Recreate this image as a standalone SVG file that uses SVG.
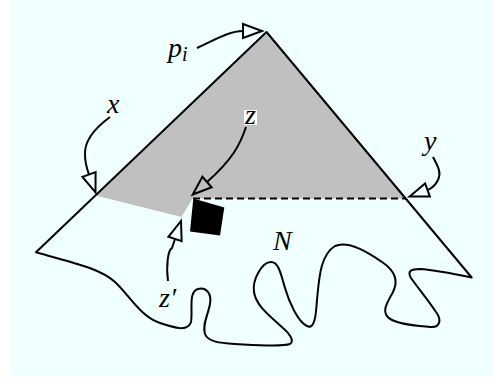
<svg xmlns="http://www.w3.org/2000/svg" width="493" height="381" viewBox="0 0 493 381">
<style>
.ln{fill:none;stroke:#000;stroke-width:2;stroke-linejoin:round;stroke-linecap:round}
.arr{fill:none;stroke:#000;stroke-width:2;marker-end:url(#ah)}
.lb{font-family:"Liberation Serif","Times New Roman",serif;font-style:italic;font-size:28px;fill:#000}
</style>
<defs>
<marker id="ah" viewBox="-2 -10 24 20" refX="0" refY="0" markerWidth="24" markerHeight="20" markerUnits="userSpaceOnUse" orient="auto">
<path d="M0,-7 L19,0 L0,7 Z" fill="none" stroke="#000" stroke-width="2" stroke-linejoin="miter"/>
</marker>
</defs>
<rect x="0" y="0" width="493" height="381" fill="#ffffff"/>
<rect x="10" y="0" width="483" height="375" fill="#f0ffff"/>
<g id="shaded">
<polygon points="266.5,32 95.5,195.5 181.5,217 192.5,198.5 406,198.5" fill="#c0c0c0"/>
</g>
<g id="region-N">
<path class="ln" d="M36,252.3 L266.5,32 L471.7,277.5 C455,274 435,270 420,269 C411,269 407,271 411,278 C418,288 428,300 436,312 C442,320 440,328 430,327 C420,326 402,325 392,320 C380,314 386,304 393,292 C399,280 394,270 382,262 C368,252 348,240 335,246 C320,255 319,280 317,300 C316,314 315,330 307,326 C298,322 289,302 285,288 C281,275 279,262 271,262 C262,262 252,280 254,292 C256,306 270,316 283,328 C289,333 295,341 290,344 C282,347 255,345 235,344 C220,343 208,342 205,334 C202,325 208,315 210,304 C212,293 206,287 198,289 C188,292 193,310 191,322 C188,332 175,328 160,323 C140,316 130,296 115,282 C100,268 70,262 36,252.3 Z"/>
</g>
<g id="dashed-chord">
<line x1="193" y1="198.5" x2="406" y2="198.5" stroke="#000" stroke-width="2" stroke-dasharray="7,4"/>
</g>
<g id="square">
<polygon points="193.3,198.5 224.3,207.5 220,235.5 190,231.5" fill="#000"/>
</g>
<g id="connectors">
<path class="arr" d="M197,48 C218,38 230,31 243,31"/>
<path class="arr" d="M110,117 C95,128 84,140 85,155 C85,163 87,169 89,174.5"/>
<path class="arr" d="M246,127 C240,145 232,160 207,182"/>
<path class="arr" d="M433,157 C437,165 442,172 438,180 C436,184 433,188 427.5,190"/>
<path class="arr" d="M168,281 C166,265 168,250 172,248 C173,245 174,242 175,239"/>
</g>
<g id="label-pi"><text class="lb" x="168" y="57">p<tspan font-size="20" dy="4">i</tspan></text></g>
<g id="label-x"><text class="lb" x="107" y="113">x</text></g>
<g id="label-z"><rect x="244" y="110" width="13" height="15" fill="#ffffff"/><text class="lb" x="245" y="124">z</text></g>
<g id="label-y"><text class="lb" x="424" y="150">y</text></g>
<g id="label-zp"><text class="lb" x="159" y="307">z′</text></g>
<g id="label-N"><text class="lb" x="273" y="250" font-size="30">N</text></g>
</svg>
